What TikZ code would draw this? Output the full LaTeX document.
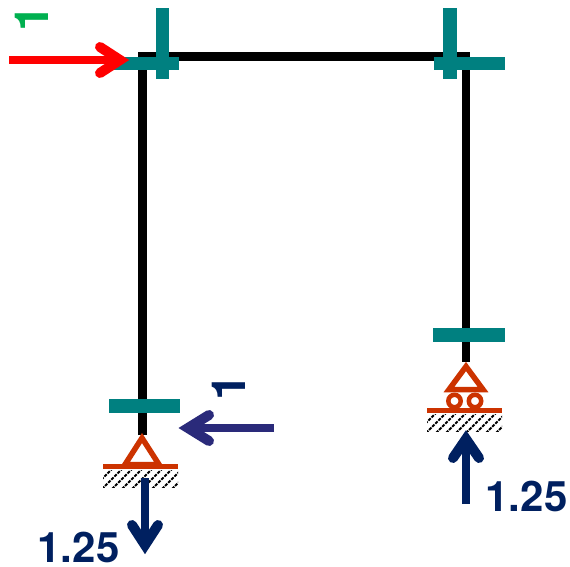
\documentclass[tikz,border=0pt]{standalone}
\usepackage{fontspec}
\setmainfont{TeX Gyre Heros}
\definecolor{plate}{HTML}{008080}
\definecolor{supp}{HTML}{CC3300}
\definecolor{navyb}{HTML}{002060}
\definecolor{purp}{HTML}{2A2A7A}
\definecolor{grn}{HTML}{00B050}
\tikzset{
  member/.style={line width=8.3pt,black,line cap=butt,line join=miter},
  platebar/.style={fill=plate,draw=none},
  suppbar/.style={fill=supp,draw=none},
  supptri/.style={draw=supp,line width=5.5pt,line join=miter,miter limit=10,fill=white},
  roller/.style={draw=supp,line width=4.5pt,fill=white},
  shaft/.style={line width=8pt,line cap=butt},
  barb/.style={line width=10pt,line cap=round,line join=miter,miter limit=10},
  hatchline/.style={line width=1.8pt,dash pattern=on 3.2pt off 1.2pt,black},
  bignum/.style={font=\bfseries\fontsize{42}{42}\selectfont,text=navyb,inner sep=0pt,anchor=base},
  oneglyph/.style={font=\bfseries\fontsize{47}{47}\selectfont,rotate=90,inner sep=0pt}
}
\begin{document}
\begin{tikzpicture}[x=1pt,y=-1pt]
\useasboundingbox (0,0) rectangle (570,567);
% frame
\coordinate (lb) at (142.5,435);
\coordinate (lt) at (142.5,56.5);
\coordinate (rt) at (466,56.5);
\coordinate (rb) at (466,362);
\draw[member] (lb) -- (lt) -- (rt) -- (rb);
% plates
\fill[platebar] (108,57) rectangle (179,70);
\fill[platebar] (156,8) rectangle (169,79);
\fill[platebar] (434,57) rectangle (505,70);
\fill[platebar] (443,8) rectangle (457,79);
\fill[platebar] (109,399) rectangle (180,413);
\fill[platebar] (433,328) rectangle (505,342);
% left support
\begin{scope}
\clip (103,470) rectangle (178,487);
\foreach \i in {0,...,9}{\draw[hatchline] (92+\i*10,489) -- (112+\i*10,469);}
\end{scope}
\draw[supptri] (142,438) -- (125,464.5) -- (159,464.5) -- cycle;
\fill[suppbar] (103,464) rectangle (178,469);
% right support
\begin{scope}
\clip (427,414) rectangle (502,431);
\foreach \i in {0,...,9}{\draw[hatchline] (416+\i*10,433) -- (436+\i*10,413);}
\end{scope}
\draw[supptri] (466,366.5) -- (449,389.5) -- (483,389.5) -- cycle;
\draw[roller] (454.5,401) circle (6.2);
\draw[roller] (475,401) circle (6.2);
\fill[suppbar] (427,408) rectangle (502,413);
% red arrow
\coordinate (ra) at (9,60); \coordinate (rv) at (120,60);
\draw[shaft,red] (ra) -- (rv);
\draw[barb,red] (100,47) -- (rv) -- (100,73);
% purple arrow
\coordinate (pa) at (274,428); \coordinate (pv) at (188,428);
\draw[shaft,purp] (pa) -- (pv);
\draw[barb,purp] (209,415) -- (pv) -- (209,441);
% left reaction
\coordinate (da) at (145,478); \coordinate (dv) at (145,545);
\draw[shaft,navyb] (da) -- (dv);
\draw[barb,navyb] (132,525) -- (dv) -- (158,525);
% right reaction
\coordinate (ua) at (466,504); \coordinate (uv) at (466,439);
\draw[shaft,navyb] (ua) -- (uv);
\draw[barb,navyb] (453,458) -- (uv) -- (479,458);
% labels
\node[oneglyph,text=grn] (one1) at (32,18) {1};
\node[oneglyph,text=navyb] (one2) at (229,387) {1};
\node[bignum] (l1) at (78.5,562.5) {1.25};
\node[bignum] (l2) at (526.5,511.5) {1.25};
\end{tikzpicture}
\end{document}
